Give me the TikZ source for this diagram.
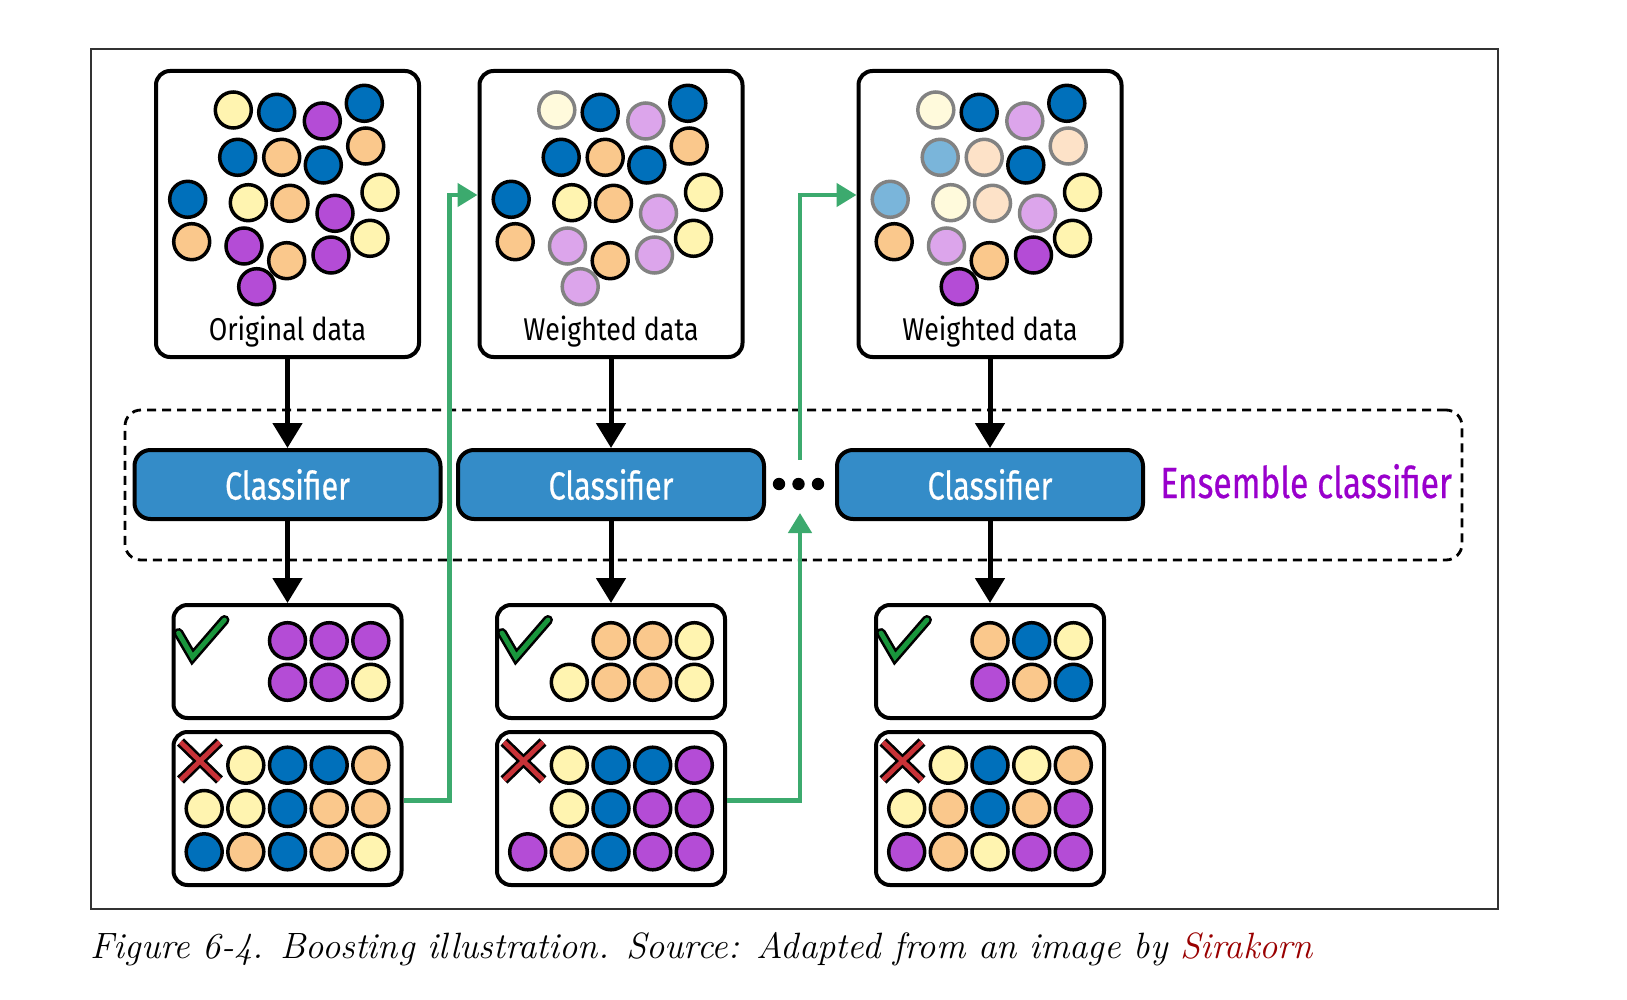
\documentclass[tikz,border=0pt]{standalone}
\usepackage{fontspec}
\usetikzlibrary{arrows.meta}
\newfontfamily\labfont[FakeStretch=0.85]{Fira Sans}
\newfontfamily\clsfont[FakeStretch=0.78,FakeBold=0.5]{Fira Sans}
\newfontfamily\ensfont[FakeStretch=0.77,FakeBold=0.5]{Fira Sans}
\definecolor{cB}{RGB}{0,112,187}
\definecolor{cP}{RGB}{180,76,214}
\definecolor{cO}{RGB}{250,200,140}
\definecolor{cY}{RGB}{255,244,176}
\definecolor{fB}{RGB}{122,181,218}
\definecolor{fP}{RGB}{220,165,235}
\definecolor{fO}{RGB}{253,226,200}
\definecolor{fY}{RGB}{255,250,220}
\definecolor{gk}{RGB}{0,0,0}
\definecolor{gg}{RGB}{130,130,130}
\definecolor{clsblue}{RGB}{52,140,200}
\definecolor{arrgreen}{RGB}{60,170,110}
\definecolor{chkgreen}{RGB}{25,150,60}
\definecolor{crossred}{RGB}{200,50,55}
\definecolor{enspurple}{RGB}{153,0,204}
\definecolor{capred}{RGB}{153,0,0}
\begin{document}
\begin{tikzpicture}[x=0.5pt,y=-0.5pt,
  databox/.style={draw,line width=2pt,rounded corners=7pt,minimum width=131.5pt,minimum height=143pt,inner sep=0pt},
  clsbox/.style={draw,line width=2pt,rounded corners=8pt,fill=clsblue,minimum width=153pt,minimum height=34.5pt,inner sep=0pt,text=white,font=\clsfont\fontsize{19.6pt}{20pt}\selectfont},
  chkbox/.style={draw,line width=2pt,rounded corners=7pt,minimum width=114pt,minimum height=56.5pt,inner sep=0pt},
  xbox/.style={draw,line width=2pt,rounded corners=7pt,minimum width=114pt,minimum height=76.5pt,inner sep=0pt},
  ensbox/.style={draw,line width=1.4pt,dash pattern=on 4.5pt off 3pt,rounded corners=8pt,minimum width=668.5pt,minimum height=75pt,inner sep=0pt},
  datalabel/.style={anchor=base,inner sep=0pt,font=\labfont\fontsize{15.75pt}{16pt}\selectfont},
  blk/.style={line width=2.5pt,-{Triangle[width=14.5pt,length=12.5pt]}},
  grn/.style={draw=arrgreen,line width=2.3pt,-{Triangle[width=11.5pt,length=10pt]},color=arrgreen},
]
\useasboundingbox (0,0) rectangle (1627,1000);
% frame
\draw[line width=0.7pt,black!80] (91,49) rectangle (1498,909);

% ensemble dashed box
\node[ensbox] (ens) at (793.5,485) {};
\node[anchor=base west,inner sep=0pt,text=enspurple,font=\ensfont\fontsize{21.8pt}{22pt}\selectfont] (enslab) at (1160,498) {Ensemble classifier};

% data boxes
\node[databox] (d1) at (287.5,214) {};
\node[databox] (d2) at (611,214) {};
\node[databox] (d3) at (990,214) {};
\node[datalabel] (l1) at (287.5,340) {Original data};
\node[datalabel] (l2) at (611,340) {Weighted data};
\node[datalabel] (l3) at (990,340) {Weighted data};

% circles in data boxes
\begin{scope}[shift={(d1.center)}]
\foreach \x/\y/\f/\d in {-54.2/-104/cY/gk,-10.8/-101.7/cB/gk,34.8/-93/cP/gk,76.8/-110.7/cB/gk,
 -49.8/-56.7/cB/gk,-5.8/-56.7/cO/gk,35.8/-49/cB/gk,78.2/-68/cO/gk,
 -99.8/-14.7/cB/gk,-39.2/-11.3/cY/gk,2.5/-10.7/cO/gk,47.5/-0.7/cP/gk,92.5/-21.7/cY/gk,
 -95.8/27.7/cO/gk,-43.5/32/cP/gk,-0.8/46.7/cO/gk,43.5/41/cP/gk,82.5/24.3/cY/gk,-30.8/72.7/cP/gk}
 \filldraw[fill=\f,draw=\d,line width=1.75pt] (\x,\y) circle (9pt);
\end{scope}
\begin{scope}[shift={(d2.center)}]
\foreach \x/\y/\f/\d in {-54.2/-104/fY/gg,-10.8/-101.7/cB/gk,34.8/-93/fP/gg,76.8/-110.7/cB/gk,
 -49.8/-56.7/cB/gk,-5.8/-56.7/cO/gk,35.8/-49/cB/gk,78.2/-68/cO/gk,
 -99.8/-14.7/cB/gk,-39.2/-11.3/cY/gk,2.5/-10.7/cO/gk,47.5/-0.7/fP/gg,92.5/-21.7/cY/gk,
 -95.8/27.7/cO/gk,-43.5/32/fP/gg,-0.8/46.7/cO/gk,43.5/41/fP/gg,82.5/24.3/cY/gk,-30.8/72.7/fP/gg}
 \filldraw[fill=\f,draw=\d,line width=1.75pt] (\x,\y) circle (9pt);
\end{scope}
\begin{scope}[shift={(d3.center)}]
\foreach \x/\y/\f/\d in {-54.2/-104/fY/gg,-10.8/-101.7/cB/gk,34.8/-93/fP/gg,76.8/-110.7/cB/gk,
 -49.8/-56.7/fB/gg,-5.8/-56.7/fO/gg,35.8/-49/cB/gk,78.2/-68/fO/gg,
 -99.8/-14.7/fB/gg,-39.2/-11.3/fY/gg,2.5/-10.7/fO/gg,47.5/-0.7/fP/gg,92.5/-21.7/cY/gk,
 -95.8/27.7/cO/gk,-43.5/32/fP/gg,-0.8/46.7/cO/gk,43.5/41/cP/gk,82.5/24.3/cY/gk,-30.8/72.7/cP/gk}
 \filldraw[fill=\f,draw=\d,line width=1.75pt] (\x,\y) circle (9pt);
\end{scope}

% classifier boxes
\node[clsbox] (c1) at (287.5,484.5) {Classifier};
\node[clsbox] (c2) at (611,484.5) {Classifier};
\node[clsbox] (c3) at (990,484.5) {Classifier};
\fill (779,484) circle (3.1pt);
\fill (798.5,484) circle (3.1pt);
\fill (818,484) circle (3.1pt);

% result boxes
\node[chkbox] (k1) at (287.5,661.5) {};
\node[chkbox] (k2) at (611,661.5) {};
\node[chkbox] (k3) at (990,661.5) {};
\node[xbox] (x1) at (287.5,808.5) {};
\node[xbox] (x2) at (611,808.5) {};
\node[xbox] (x3) at (990,808.5) {};

% check box contents
\begin{scope}[shift={(k1.center)}]
\foreach \x/\y/\f in {0/-20.8/cP,41.7/-20.8/cP,83.3/-20.8/cP,0/20.8/cP,41.7/20.8/cP,83.3/20.8/cY}
 \filldraw[fill=\f,draw=black,line width=1.75pt] (\x,\y) circle (9pt);
\end{scope}
\begin{scope}[shift={(k2.center)}]
\foreach \x/\y/\f in {0/-20.8/cO,41.7/-20.8/cO,83.3/-20.8/cY,-41.7/20.8/cY,0/20.8/cO,41.7/20.8/cO,83.3/20.8/cY}
 \filldraw[fill=\f,draw=black,line width=1.75pt] (\x,\y) circle (9pt);
\end{scope}
\begin{scope}[shift={(k3.center)}]
\foreach \x/\y/\f in {0/-20.8/cO,41.7/-20.8/cB,83.3/-20.8/cY,0/20.8/cP,41.7/20.8/cO,83.3/20.8/cB}
 \filldraw[fill=\f,draw=black,line width=1.75pt] (\x,\y) circle (9pt);
\end{scope}
% cross box contents
\begin{scope}[shift={(x1.center)}]
\foreach \x/\y/\f in {-41.7/-43.3/cY,0/-43.3/cB,41.7/-43.3/cB,83.3/-43.3/cO,
 -83.3/0/cY,-41.7/0/cY,0/0/cB,41.7/0/cO,83.3/0/cO,
 -83.3/43.3/cB,-41.7/43.3/cO,0/43.3/cB,41.7/43.3/cO,83.3/43.3/cY}
 \filldraw[fill=\f,draw=black,line width=1.75pt] (\x,\y) circle (9pt);
\end{scope}
\begin{scope}[shift={(x2.center)}]
\foreach \x/\y/\f in {-41.7/-43.3/cY,0/-43.3/cB,41.7/-43.3/cB,83.3/-43.3/cP,
 -41.7/0/cY,0/0/cB,41.7/0/cP,83.3/0/cP,
 -83.3/43.3/cP,-41.7/43.3/cO,0/43.3/cB,41.7/43.3/cP,83.3/43.3/cP}
 \filldraw[fill=\f,draw=black,line width=1.75pt] (\x,\y) circle (9pt);
\end{scope}
\begin{scope}[shift={(x3.center)}]
\foreach \x/\y/\f in {-41.7/-43.3/cY,0/-43.3/cB,41.7/-43.3/cY,83.3/-43.3/cO,
 -83.3/0/cY,-41.7/0/cO,0/0/cB,41.7/0/cO,83.3/0/cP,
 -83.3/43.3/cP,-41.7/43.3/cO,0/43.3/cY,41.7/43.3/cP,83.3/43.3/cP}
 \filldraw[fill=\f,draw=black,line width=1.75pt] (\x,\y) circle (9pt);
\end{scope}

% check marks and crosses
\foreach \b in {k1,k2,k3}{
 \begin{scope}[shift={(\b.north west)}]
  \draw[line width=5pt,line cap=round,line join=miter,black] (7,30) -- (21,54) -- (53,17);
  \draw[line width=2.4pt,line cap=round,line join=miter,chkgreen] (7,30) -- (21,54) -- (53,17);
 \end{scope}}
\foreach \b in {x1,x2,x3}{
 \begin{scope}[shift={(\b.north west)}]
  \draw[line width=5pt,black] (9,12) -- (48,50) (48,12) -- (9,50);
  \draw[line width=2.4pt,crossred] (9,12) -- (48,50) (48,12) -- (9,50);
 \end{scope}}

% black arrows
\foreach \i in {1,2,3}{
 \draw[blk] (d\i.south) -- (c\i.north);
 \draw[blk] (c\i.south) -- (k\i.north);
}

% green arrows
\coordinate (g1top) at (449.5,195);
\coordinate (g2top) at (800,195);
\coordinate (g2mid) at (800,513);
\coordinate (g2up) at (800,460);
\draw[grn] ([yshift=3.9pt]x1.east) -| (g1top) -- ([yshift=9.5pt]d2.west);
\draw[grn] ([yshift=3.9pt]x2.east) -| (g2mid);
\draw[grn] (g2up) -- (g2top) -- ([yshift=9.5pt]d3.west);

% caption
\node[anchor=base west,inner sep=0pt,font=\fontsize{18.3pt}{20pt}\selectfont\itshape] (cap) at (90,958) {Figure 6-4. Boosting illustration. Source: Adapted from an image by \textcolor{capred}{Sirakorn}};
\end{tikzpicture}
\end{document}
